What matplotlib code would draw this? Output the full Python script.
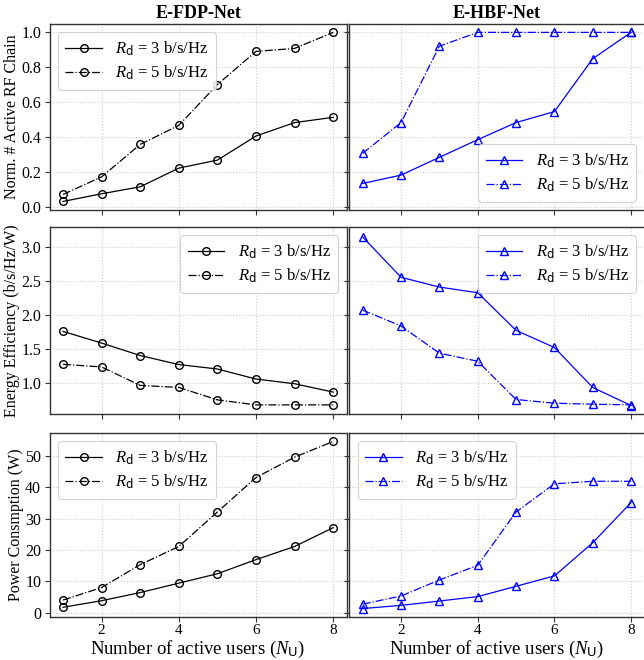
import matplotlib
matplotlib.use("Agg")
import matplotlib.pyplot as plt

plt.rcParams['font.family'] = ['Liberation Serif', 'DejaVu Serif']
plt.rcParams['mathtext.fontset'] = 'custom'
plt.rcParams['mathtext.it'] = 'Liberation Serif:italic'
plt.rcParams['mathtext.rm'] = 'DejaVu Sans'
plt.rcParams['mathtext.cal'] = 'Liberation Serif'

users = [1, 2, 3, 4, 5, 6, 7, 8]
xticks = [2, 4, 6, 8]

fdp_rf_r3 = [0.031, 0.075, 0.115, 0.222, 0.268, 0.406, 0.483, 0.513]
fdp_rf_r5 = [0.071, 0.172, 0.358, 0.467, 0.701, 0.891, 0.908, 1.0]
hbf_rf_r3 = [0.134, 0.182, 0.284, 0.385, 0.483, 0.546, 0.849, 1.0]
hbf_rf_r5 = [0.307, 0.483, 0.921, 1.0, 1.0, 1.0, 1.0, 1.0]

fdp_ee_r3 = [1.765, 1.593, 1.41, 1.277, 1.212, 1.064, 0.995, 0.872]
fdp_ee_r5 = [1.281, 1.242, 0.97, 0.94, 0.758, 0.684, 0.684, 0.684]
hbf_ee_r3 = [3.153, 2.56, 2.417, 2.333, 1.78, 1.528, 0.94, 0.675]
hbf_ee_r5 = [2.077, 1.844, 1.444, 1.326, 0.763, 0.709, 0.694, 0.684]

fdp_pc_r3 = [1.7, 3.8, 6.4, 9.4, 12.4, 16.9, 21.1, 27.1]
fdp_pc_r5 = [4.0, 8.0, 15.3, 21.1, 32.1, 43.1, 49.6, 54.6]
hbf_pc_r3 = [1.3, 2.3, 3.7, 5.1, 8.4, 11.7, 22.3, 35.1]
hbf_pc_r5 = [2.7, 5.3, 10.4, 15.1, 32.1, 41.1, 41.9, 41.9]

titles = ['E-FDP-Net', 'E-HBF-Net']
ylabels = ['Norm. # Active RF Chain', 'Energy Efficiency (b/s/Hz/W)', 'Power Consmption (W)']
xlabel = r'Number of active users ($N_\mathrm{U}$)'
lab3 = r'$R_\mathrm{d}$ = 3 b/s/Hz'
lab5 = r'$R_\mathrm{d}$ = 5 b/s/Hz'

rows = [
    (fdp_rf_r3, fdp_rf_r5, hbf_rf_r3, hbf_rf_r5, 'upper left', 'lower right', [0.0, 0.2, 0.4, 0.6, 0.8, 1.0]),
    (fdp_ee_r3, fdp_ee_r5, hbf_ee_r3, hbf_ee_r5, 'upper right', 'upper right', [1.0, 1.5, 2.0, 2.5, 3.0]),
    (fdp_pc_r3, fdp_pc_r5, hbf_pc_r3, hbf_pc_r5, 'upper left', 'upper left', [0, 10, 20, 30, 40, 50]),
]

fig = plt.figure(figsize=(6.44, 6.60), dpi=100)
W, H = 644.0, 660.0
row_px = [(24, 210), (227, 414), (433, 617)]
col_px = [(49.5, 346.7), (349.3, 644.5)]

spine_col = '#333333'
axes = []
first = None
for r, (top, bot) in enumerate(row_px):
    rowaxes = []
    for c, (lft, rgt) in enumerate(col_px):
        rect = [lft / W, 1 - bot / H, (rgt - lft) / W, (bot - top) / H]
        kw = {}
        if first is not None:
            kw['sharex'] = first
        if c == 1:
            kw['sharey'] = rowaxes[0]
        ax = fig.add_axes(rect, **kw)
        if first is None:
            first = ax
        rowaxes.append(ax)
    axes.append(rowaxes)

for r, (a3, a5, b3, b5, locl, locr, yt) in enumerate(rows):
    for c in range(2):
        ax = axes[r][c]
        if c == 0:
            d3, d5, col, mk, loc = a3, a5, 'black', 'o', locl
        else:
            d3, d5, col, mk, loc = b3, b5, 'blue', '^', locr
        ax.plot(users, d3, '-', color=col, marker=mk, markersize=5.5,
                markerfacecolor='none', markeredgewidth=1.0, lw=0.9, label=lab3)
        ax.plot(users, d5, '-.', color=col, marker=mk, markersize=5.5,
                markerfacecolor='none', markeredgewidth=1.0, lw=0.9, label=lab5)
        ax.grid(True, linestyle=':', color='#cccccc', lw=0.8)
        ax.set_axisbelow(True)
        for s in ax.spines.values():
            s.set_color(spine_col)
            s.set_linewidth(1.0)
        ax.tick_params(labelsize=11.5, color=spine_col, length=3.5, width=0.8, pad=2.5)
        ax.tick_params(axis='x', labelsize=11, pad=1.5)
        ax.set_yticks(yt)
        ax.set_xticks(xticks)
        if c == 1:
            ax.tick_params(labelleft=False)
        else:
            ax.set_ylabel(ylabels[r], fontsize=11.5, labelpad=1)
        if r < 2:
            ax.tick_params(labelbottom=False)
        else:
            ax.set_xlabel(xlabel, fontsize=13.5)
            ax.xaxis.set_label_coords(0.5, -0.118)
        if r == 0:
            ax.set_title(titles[c], fontsize=13, fontweight='bold', pad=4)
        leg = ax.legend(loc=loc, fontsize=12, handlelength=2.2, handletextpad=0.8,
                        borderpad=0.45, labelspacing=0.35, framealpha=0.85,
                        fancybox=True)
        leg.get_frame().set_edgecolor('#cccccc')
        leg.get_frame().set_linewidth(0.8)

first.set_xlim(0.65, 8.35)
axes[0][0].set_ylim(-0.018, 1.048)
axes[1][0].set_ylim(0.55, 3.30)
axes[2][0].set_ylim(-1.4, 57.3)

fig.savefig('out.png', dpi=100)
